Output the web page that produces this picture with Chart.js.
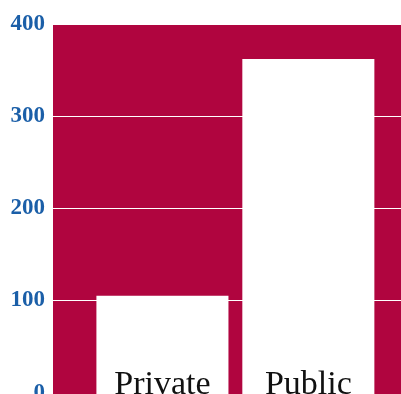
<!DOCTYPE html>
<html>
<head>
<meta charset="utf-8">
<script src="https://cdn.jsdelivr.net/npm/chart.js@4"></script>
<style>
  html, body { margin: 0; padding: 0; background: #ffffff; }
  #wrap { width: 401px; height: 394px; overflow: hidden; position: relative; }
  canvas { display: block; }
</style>
</head>
<body>
<div id="wrap"><canvas id="c" width="401" height="419"></canvas></div>
<script>
// Enrollment by school type
const categories = ['Private', 'Public'];
const counts = [105, 362];
const yTicks = [0, 100, 200, 300, 400];

const CRIMSON = '#B0053F';
const AXIS_BLUE = '#1B5FA8';
const AXIS_FLOOR = -5;

// Fills the plot area and writes each category name inside its bar
const plotDecor = {
  id: 'plotDecor',
  beforeDraw(chart) {
    const { ctx, chartArea } = chart;
    ctx.save();
    ctx.fillStyle = CRIMSON;
    ctx.fillRect(chartArea.left, chartArea.top + 1, chart.width - chartArea.left, chart.height - chartArea.top);
    ctx.restore();
  },
  afterDatasetsDraw(chart) {
    const { ctx } = chart;
    const xs = chart.scales.x;
    const ys = chart.scales.y;
    ctx.save();
    ctx.font = '34px "Liberation Serif", serif';
    ctx.fillStyle = '#111111';
    ctx.textAlign = 'center';
    ctx.textBaseline = 'alphabetic';
    categories.forEach((name, i) => {
      ctx.fillText(name, xs.getPixelForValue(i), ys.getPixelForValue(0) + 1);
    });
    ctx.restore();
  }
};

new Chart(document.getElementById('c'), {
  type: 'bar',
  data: {
    datasets: [{
      data: categories.map((name, i) => ({ x: i, y: counts[i] })),
      base: AXIS_FLOOR,
      backgroundColor: '#ffffff',
      borderWidth: 0,
      barPercentage: 0.905,
      categoryPercentage: 1.0
    }]
  },
  options: {
    responsive: false,
    animation: false,
    devicePixelRatio: 1,
    layout: { padding: { top: 24, right: 0, bottom: 0, left: 0 } },
    plugins: { legend: { display: false }, tooltip: { enabled: false } },
    scales: {
      x: {
        type: 'linear',
        display: false,
        offset: false,
        bounds: 'data',
        grid: { offset: false },
        min: -0.75,
        max: 1.635,
        afterBuildTicks(scale) {
          scale.ticks = categories.map((name, i) => ({ value: i }));
        }
      },
      y: {
        min: AXIS_FLOOR,
        max: 400,
        afterBuildTicks(scale) {
          scale.ticks = yTicks.map(v => ({ value: v }));
        },
        afterFit(scale) { scale.width = 53; },
        border: { display: false },
        grid: {
          color: (ctx) => (ctx.tick && ctx.tick.value === 0 ? 'rgba(0,0,0,0)' : '#ffffff'),
          lineWidth: 1,
          drawTicks: false
        },
        ticks: {
          padding: 8,
          color: AXIS_BLUE,
          font: { family: '"Liberation Serif", serif', size: 23, weight: 'bold' }
        }
      }
    }
  },
  plugins: [plotDecor]
});
</script>
</body>
</html>
